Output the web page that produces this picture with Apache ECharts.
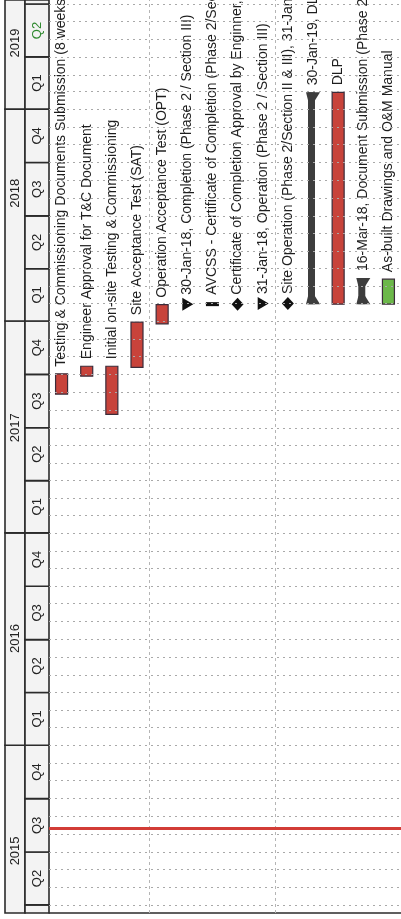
<!DOCTYPE html>
<html>
<head>
<meta charset="utf-8">
<title>Programme</title>
<script src="https://cdn.jsdelivr.net/npm/echarts@6/dist/echarts.min.js"></script>
<style>
  html, body { margin: 0; padding: 0; background: #fff; }
  #chart { width: 401px; height: 919px; }
</style>
</head>
<body>
<div id="chart"></div>
<script>
// rows of the programme, left to right in the picture (the sheet is turned on its side)
var taskNames = [
  "Testing & Commissioning Documents Submission (8 weeks)",
  "Engineer Approval for T&C Document",
  "Initial on-site Testing & Commissioning",
  "Site Acceptance Test (SAT)",
  "Operation Acceptance Test (OPT)",
  "30-Jan-18, Completion (Phase 2 / Section III)",
  "AVCSS - Certificate of Completion (Phase 2/Section III)",
  "Certificate of Completion Approval by Enginner, 30-Jan-18",
  "31-Jan-18, Operation (Phase 2 / Section III)",
  "Site Operation (Phase 2/Section II & III), 31-Jan-18",
  "30-Jan-19, DLP (Phase 2 / Section II & III)",
  "DLP",
  "16-Mar-18, Document Submission (Phase 2 / Section III)",
  "As-built Drawings and O&M Manual"
];
var taskStart = [
  "2017-08-28", "2017-09-28", "2017-07-24", "2017-10-13", "2017-12-27",
  "2018-01-30", "2018-01-29", "2018-01-30", "2018-01-31", "2018-01-31",
  "2018-01-30", "2018-01-30", "2018-01-30", "2018-01-30"
];
var taskEnd = [
  "2017-10-02", "2017-10-15", "2017-10-15", "2017-12-30", "2018-01-29",
  "2018-01-30", "2018-01-31", "2018-01-30", "2018-01-31", "2018-01-31",
  "2019-01-30", "2019-01-30", "2018-03-16", "2018-03-14"
];
// task = red bar, green = green bar, milestone = triangle, diamond, tick = thin black bar, summary = bracket bar
var taskKind = [
  "task", "task", "task", "task", "task",
  "milestone", "tick", "diamond", "milestone", "diamond",
  "summary", "task", "summary", "green"
];

// timescale header
var years = [2015, 2016, 2017, 2018, 2019];
var quarterNames = ["Q1", "Q2", "Q3", "Q4"];
var yearLabelAt = ["2015-07-03", "2016-07-03", "2017-07-01", "2018-08-09", "2019-04-25"];
var currentQuarter = "2019 Q2";
var todayLine = "2015-08-11";
var axisFrom = "2015-03-18";
var axisTo = "2019-07-08";

function ts(s) {
  return +new Date(s);
}

var taskData = taskNames.map(function (n, i) {
  return [i, ts(taskStart[i]), ts(taskEnd[i])];
});

var yearData = years.map(function (y, i) {
  return [Date.UTC(y, 0, 1), Date.UTC(y + 1, 0, 1), ts(yearLabelAt[i])];
});

var quarterData = [];
var quarterLabels = [];
years.forEach(function (y) {
  quarterNames.forEach(function (q, k) {
    quarterData.push([Date.UTC(y, k * 3, 1), Date.UTC(y, k * 3 + 3, 1)]);
    quarterLabels.push(y + " " + q);
  });
});

// one dotted grid line at every month start
var monthLines = [];
for (var m = 3; m <= 54; m++) {
  monthLines.push({ yAxis: Date.UTC(2015, m, 1) });
}

var lineColor = "#2b2b2b";
var font = "Liberation Sans";

function renderYear(params, api) {
  var cs = params.coordSys;
  var x0 = api.coord([0, api.value(0)])[0];
  var x1 = api.coord([20, api.value(0)])[0];
  var y1 = Math.min(api.coord([0, api.value(0)])[1], cs.y + cs.height);
  var y0 = Math.max(api.coord([0, api.value(1)])[1], cs.y);
  if (y1 <= y0) return;
  var ly = api.coord([0, api.value(2)])[1];
  return {
    type: "group",
    children: [
      {
        type: "rect",
        shape: { x: x0, y: y0, width: x1 - x0, height: y1 - y0 },
        style: { fill: "#f3f3f3", stroke: lineColor, lineWidth: 1.6 }
      },
      {
        type: "text",
        x: (x0 + x1) / 2,
        y: ly,
        rotation: Math.PI / 2,
        style: {
          text: String(years[params.dataIndex]),
          fill: "#222",
          fontSize: 13,
          fontFamily: font,
          align: "center",
          verticalAlign: "middle"
        }
      }
    ]
  };
}

function renderQuarter(params, api) {
  var cs = params.coordSys;
  var x0 = api.coord([20, api.value(0)])[0];
  var x1 = api.coord([44, api.value(0)])[0];
  var y1 = Math.min(api.coord([0, api.value(0)])[1], cs.y + cs.height);
  var y0 = Math.max(api.coord([0, api.value(1)])[1], cs.y);
  if (y1 <= y0) return;
  var label = quarterLabels[params.dataIndex];
  var children = [
    {
      type: "rect",
      shape: { x: x0, y: y0, width: x1 - x0, height: y1 - y0 },
      style: { fill: "#f3f3f3", stroke: lineColor, lineWidth: 1.6 }
    }
  ];
  if (y1 - y0 > 20) {
    children.push({
      type: "text",
      x: (x0 + x1) / 2,
      y: (y0 + y1) / 2,
      rotation: Math.PI / 2,
      style: {
        text: label.split(" ")[1],
        fill: label === currentQuarter ? "#2f8a2f" : "#222",
        fontSize: 13,
        fontFamily: font,
        align: "center",
        verticalAlign: "middle"
      }
    });
  }
  return { type: "group", children: children };
}

function renderTask(params, api) {
  var i = api.value(0);
  var kind = taskKind[params.dataIndex];
  var s = api.coord([i + 0.5, api.value(1)]);
  var e = api.coord([i + 0.5, api.value(2)]);
  var cx = s[0];
  var yS = s[1];
  var yE = e[1];
  var mid = (yS + yE) / 2;
  var children = [];
  var labelY = yE - 7;

  if (kind === "task" || kind === "green") {
    children.push({
      type: "rect",
      shape: { x: cx - 6, y: yE, width: 12, height: Math.max(yS - yE, 2) },
      style: { fill: kind === "green" ? "#6cb84a" : "#c8433b", stroke: "#3b2c3a", lineWidth: 1.2 }
    });
  } else if (kind === "tick") {
    children.push({
      type: "rect",
      shape: { x: cx - 6.5, y: mid - 2, width: 13, height: 4 },
      style: { fill: "#111" }
    });
    labelY = mid - 9.5;
  } else if (kind === "milestone") {
    children.push({
      type: "polygon",
      shape: { points: [[cx - 5, mid - 6.5], [cx + 6, mid], [cx - 5, mid + 6.5]] },
      style: { fill: "#111" }
    });
    labelY = mid - 9.5;
  } else if (kind === "diamond") {
    children.push({
      type: "polygon",
      shape: { points: [[cx, mid - 6.5], [cx + 6, mid], [cx, mid + 6.5], [cx - 6, mid]] },
      style: { fill: "#111" }
    });
    labelY = mid - 9.5;
  } else if (kind === "summary") {
    children.push({
      type: "rect",
      shape: { x: cx - 5, y: yE, width: 7, height: yS - yE },
      style: { fill: "#3d3d3d" }
    });
    children.push({
      type: "polygon",
      shape: { points: [[cx - 7, yS], [cx + 7, yS], [cx + 2, yS - 8], [cx - 5, yS - 8]] },
      style: { fill: "#3d3d3d" }
    });
    children.push({
      type: "polygon",
      shape: { points: [[cx - 7, yE], [cx + 7, yE], [cx + 2, yE + 8], [cx - 5, yE + 8]] },
      style: { fill: "#3d3d3d" }
    });
  }

  children.push({
    type: "text",
    x: cx,
    y: labelY,
    rotation: Math.PI / 2,
    style: {
      text: taskNames[params.dataIndex],
      fill: "#1e1e1e",
      fontSize: 14,
      fontFamily: font,
      align: "left",
      verticalAlign: "middle"
    }
  });
  return { type: "group", children: children };
}

var myChart = echarts.init(document.getElementById("chart"));
var option = {
  animation: false,
  backgroundColor: "#fff",
  grid: [
    { left: 49, top: 0, width: 356, height: 913 },
    { left: 5, top: 0, width: 44, height: 913 }
  ],
  xAxis: [
    {
      gridIndex: 0,
      type: "value",
      min: 0,
      max: 14,
      axisLine: { show: true, lineStyle: { color: lineColor, width: 1.6 } },
      axisTick: { show: false },
      axisLabel: { show: false },
      splitLine: { show: false }
    },
    {
      gridIndex: 1,
      type: "value",
      min: 0,
      max: 44,
      show: false
    }
  ],
  yAxis: [
    { gridIndex: 0, type: "time", min: ts(axisFrom), max: ts(axisTo), show: false },
    { gridIndex: 1, type: "time", min: ts(axisFrom), max: ts(axisTo), show: false }
  ],
  series: [
    {
      // grid lines: monthly dotted lines, two row separators, and the red status line
      type: "scatter",
      data: [],
      silent: true,
      markLine: {
        silent: true,
        symbol: "none",
        label: { show: false },
        data: monthLines
          .map(function (d) {
            return Object.assign({ lineStyle: { color: "#a9a9a9", width: 1, type: [2, 4] } }, d);
          })
          .concat([
            { xAxis: 4, lineStyle: { color: "#b5b5b5", width: 1, type: [3, 3] } },
            { xAxis: 9, lineStyle: { color: "#b5b5b5", width: 1, type: [3, 3] } },
            { yAxis: ts(todayLine), lineStyle: { color: "#d23c36", width: 3, type: "solid" } }
          ])
      }
    },
    {
      type: "custom",
      xAxisIndex: 1,
      yAxisIndex: 1,
      renderItem: renderYear,
      encode: { y: [0, 1] },
      data: yearData
    },
    {
      type: "custom",
      xAxisIndex: 1,
      yAxisIndex: 1,
      renderItem: renderQuarter,
      encode: { y: [0, 1] },
      data: quarterData
    },
    {
      type: "custom",
      renderItem: renderTask,
      encode: { x: 0, y: [1, 2] },
      data: taskData
    }
  ]
};

option && myChart.setOption(option);
</script>
</body>
</html>
